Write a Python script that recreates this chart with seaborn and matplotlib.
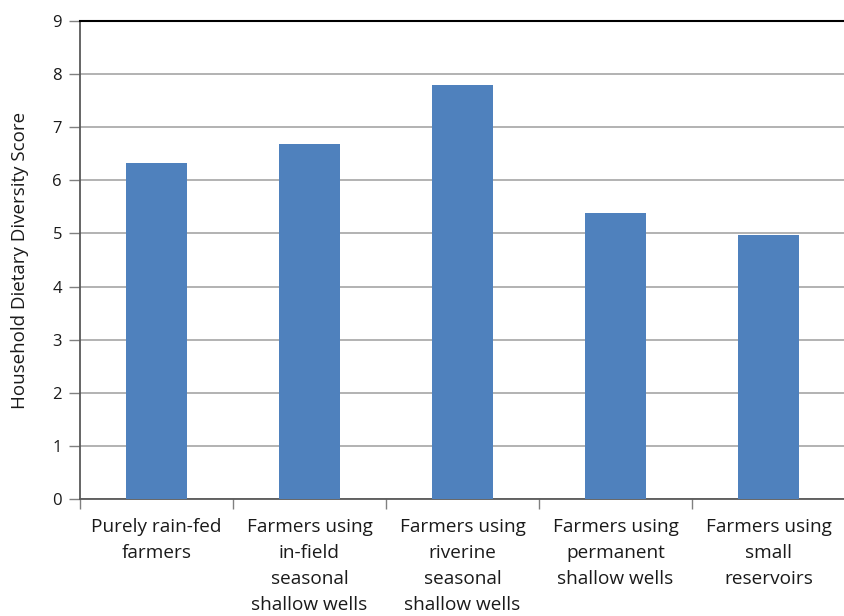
import matplotlib
matplotlib.use("Agg")
import matplotlib.pyplot as plt
import seaborn as sns
import pandas as pd

categories = [
    "Purely rain-fed\nfarmers",
    "Farmers using\nin-field\nseasonal\nshallow wells",
    "Farmers using\nriverine\nseasonal\nshallow wells",
    "Farmers using\npermanent\nshallow wells",
    "Farmers using\nsmall\nreservoirs",
]
scores = [6.33, 6.68, 7.80, 5.38, 4.98]
y_ticks = [0, 1, 2, 3, 4, 5, 6, 7, 8, 9]

sns.set_theme(style="white")
plt.rcParams["font.family"] = ["Open Sans", "DejaVu Sans"]

df = pd.DataFrame({"cat": categories, "score": scores})

fig = plt.figure(figsize=(8.44, 6.16), dpi=100)
ax = fig.add_axes([80 / 844, 1 - 499 / 616, 765 / 844, (499 - 21) / 616])
sns.barplot(data=df, x="cat", y="score", color="#4F81BD", saturation=1,
            width=0.405, ax=ax, zorder=3, linewidth=0, edgecolor="none")

ax.set_ylim(0, 9)
ax.set_xlim(-0.5, len(categories) - 0.5)
ax.set_yticks(y_ticks)
ax.yaxis.grid(True, color="#a6a6a6", linewidth=1.2, zorder=0)
ax.set_axisbelow(True)
ax.set_xlabel("")
ax.set_ylabel("Household Dietary Diversity Score", fontsize=13.5, color="#1a1a1a", labelpad=17)

ax.set_xticks([i - 0.5 for i in range(len(categories) + 1)], minor=True)
ax.set_xticks(range(len(categories)))
ax.set_xticklabels(categories, fontsize=13.7, color="#1a1a1a", linespacing=1.57)
ax.tick_params(axis="x", which="major", length=0, pad=14)
ax.tick_params(axis="x", which="minor", length=7, width=1, color="#808080", bottom=True)
ax.tick_params(axis="y", length=8, width=1, color="#808080", labelsize=12, labelcolor="#1a1a1a", pad=5, left=True)

for s in ["left", "bottom"]:
    ax.spines[s].set_color("#595959")
    ax.spines[s].set_linewidth(1.3)
ax.spines["top"].set_color("#000000")
ax.spines["top"].set_linewidth(1.5)
ax.spines["right"].set_visible(False)

fig.savefig("out.png", dpi=100)
